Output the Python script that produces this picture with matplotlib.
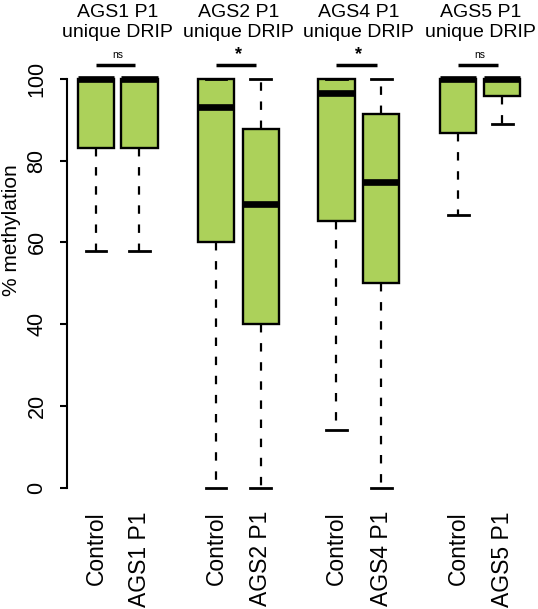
import matplotlib
matplotlib.use("Agg")
import matplotlib.pyplot as plt

plt.rcParams['font.family'] = ['Liberation Sans', 'DejaVu Sans']

# box statistics (% methylation)
labels = ["Control", "AGS1 P1", "Control", "AGS2 P1",
          "Control", "AGS4 P1", "Control", "AGS5 P1"]
whis_low = [58, 58, 0, 0, 14, 0, 66.7, 89]
q1 = [83.2, 83.2, 60, 40, 65.2, 50, 86.7, 95.8]
medians = [100, 100, 93.2, 69.3, 96.5, 74.9, 100, 100]
q3 = [100, 100, 100, 87.7, 100, 91.5, 100, 100]
whis_high = [100, 100, 100, 100, 100, 100, 100, 100]

group_titles = ["AGS1 P1\nunique DRIP", "AGS2 P1\nunique DRIP",
                "AGS4 P1\nunique DRIP", "AGS5 P1\nunique DRIP"]
significance = ["ns", "*", "*", "ns"]

positions = [1, 2, 3.76, 4.79, 6.53, 7.56, 9.33, 10.34]
fill = "#acd15a"

fig = plt.figure(figsize=(5.38, 6.09), dpi=100)
ax = fig.add_axes([0.1245, 0.1995, 0.8606, 0.6708])

stats = []
for i in range(len(labels)):
    stats.append({"whislo": whis_low[i], "q1": q1[i], "med": medians[i],
                  "q3": q3[i], "whishi": whis_high[i], "label": labels[i]})

ax.bxp(stats, positions=positions, widths=0.83, showfliers=False,
       patch_artist=True, capwidths=0.48,
       boxprops=dict(facecolor=fill, edgecolor="black", linewidth=1.7),
       medianprops=dict(color="black", linewidth=4.8, solid_capstyle="butt"),
       whiskerprops=dict(color="black", linewidth=1.6, linestyle=(0, (3.8, 4.8))),
       capprops=dict(color="black", linewidth=2.0),
       manage_ticks=False)

for art in ax.get_children():
    art.set_clip_on(False)

ax.set_xlim(0.333, 10.98)
ax.set_ylim(0, 100)
ax.set_yticks([0, 20, 40, 60, 80, 100])
ax.set_xticks(positions)
ax.set_xticklabels(labels, rotation=90, fontsize=16.5)
ax.tick_params(axis="x", length=0, pad=17)
ax.tick_params(axis="y", length=5, width=1.5, pad=9, labelsize=15.5, labelrotation=90)
for lab in ax.get_yticklabels():
    lab.set_va("center")

for side in ["top", "right", "bottom"]:
    ax.spines[side].set_visible(False)
ax.spines["left"].set_linewidth(1.5)

fig.text(12 / 538, 1 - 230 / 609, "% methylation", rotation=90,
         ha="center", va="center", fontsize=15)

# group titles and significance bars
for g in range(4):
    left = positions[2 * g]
    right = positions[2 * g + 1]
    mid = (left + right) / 2
    ax.plot([left, right - 0.1], [103.4, 103.4], color="black", lw=2.5,
            solid_capstyle="butt", clip_on=False)
    if significance[g] == "ns":
        ax.text(mid, 104.6, "ns", ha="center", va="bottom", fontsize=7.5)
    else:
        ax.text(mid, 104.0, "*", ha="center", va="bottom", fontsize=13,
                fontweight="bold")
    ax.text(mid, 113.8, group_titles[g], ha="center", va="center",
            fontsize=14, linespacing=1.2)

fig.savefig("out.png", dpi=100)
